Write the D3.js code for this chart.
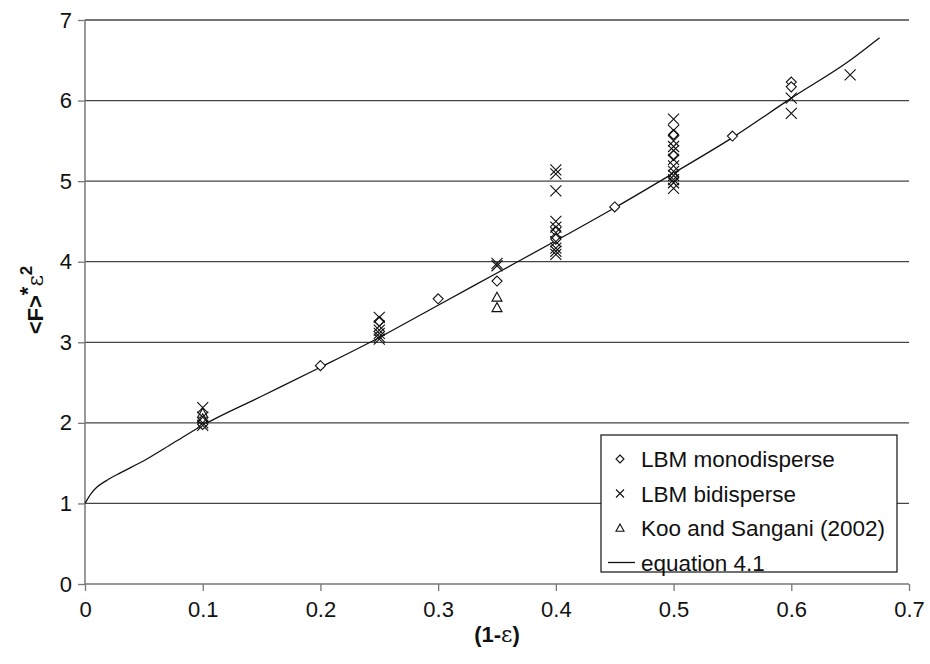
<!DOCTYPE html>
<html>
<head>
<meta charset="utf-8">
<script src="https://cdn.jsdelivr.net/npm/d3@7"></script>
<style>
  body { margin: 0; background: #fff; }
  text { font-family: "Liberation Sans", Arial, sans-serif; }
</style>
</head>
<body>
<svg id="chart" width="930" height="664"></svg>
<script>
// LBM monodisperse points [x, y]
var mono = [
  [0.1, 2.02], [0.1, 1.98], [0.2, 2.71], [0.25, 3.26], [0.3, 3.54], [0.35, 3.76],
  [0.4, 4.38], [0.4, 4.28], [0.45, 4.68], [0.5, 5.58], [0.5, 5.32], [0.5, 5.05],
  [0.55, 5.56], [0.6, 6.23], [0.6, 6.17]
];
// LBM bidisperse points
var bi = [
  [0.1, 2.19], [0.1, 2.07], [0.1, 2.0], [0.1, 1.97],
  [0.25, 3.31], [0.25, 3.2], [0.25, 3.15], [0.25, 3.11], [0.25, 3.07], [0.25, 3.04],
  [0.35, 3.98], [0.35, 3.95],
  [0.4, 5.14], [0.4, 5.09], [0.4, 4.88], [0.4, 4.5], [0.4, 4.43], [0.4, 4.36],
  [0.4, 4.25], [0.4, 4.17], [0.4, 4.13], [0.4, 4.09],
  [0.5, 5.77], [0.5, 5.63], [0.5, 5.5], [0.5, 5.43], [0.5, 5.38], [0.5, 5.27],
  [0.5, 5.19], [0.5, 5.12], [0.5, 5.07], [0.5, 5.02], [0.5, 4.98], [0.5, 4.91],
  [0.6, 6.03], [0.6, 5.84],
  [0.65, 6.32]
];
// Koo and Sangani (2002)
var koo = [
  [0.1, 2.12], [0.1, 2.05], [0.35, 3.56], [0.35, 3.43]
];
// equation 4.1
var eqX = [0, 0.005, 0.01, 0.02, 0.03, 0.05, 0.075, 0.1, 0.15, 0.2, 0.25, 0.3, 0.35, 0.4, 0.45, 0.5, 0.55, 0.6, 0.65, 0.675];
var eqY = [1, 1.12, 1.2, 1.3, 1.38, 1.53, 1.75, 1.97, 2.33, 2.69, 3.06, 3.46, 3.86, 4.26, 4.67, 5.1, 5.54, 6.03, 6.5, 6.78];

var xTicks = [0, 0.1, 0.2, 0.3, 0.4, 0.5, 0.6, 0.7];
var yTicks = [0, 1, 2, 3, 4, 5, 6, 7];

var legendItems = [
  { label: 'LBM monodisperse', kind: 'diamond' },
  { label: 'LBM bidisperse', kind: 'cross' },
  { label: 'Koo and Sangani (2002)', kind: 'triangle' },
  { label: 'equation 4.1', kind: 'line' }
];

var margin = { left: 85, right: 21, top: 20, bottom: 80 };
var width = 930 - margin.left - margin.right;
var height = 664 - margin.top - margin.bottom;

var svg = d3.select('#chart');
var g = svg.append('g').attr('transform', 'translate(' + margin.left + ',' + margin.top + ')');

var x = d3.scaleLinear().domain([0, 0.7]).range([0, width]);
var y = d3.scaleLinear().domain([0, 7]).range([height, 0]);

// gridlines
g.selectAll('.grid').data(yTicks.slice(1)).enter().append('line')
  .attr('x1', 0).attr('x2', width)
  .attr('y1', function (d) { return y(d); }).attr('y2', function (d) { return y(d); })
  .attr('stroke', '#444').attr('stroke-width', 1.3);

// axes
var xAxis = g.append('g').attr('transform', 'translate(0,' + height + ')')
  .call(d3.axisBottom(x).tickValues(xTicks).tickSize(7).tickPadding(10)
    .tickFormat(function (d) { return d === 0 ? '0' : d3.format('.1f')(d); }));
var yAxis = g.append('g')
  .call(d3.axisLeft(y).tickValues(yTicks).tickSize(7).tickPadding(6).tickFormat(d3.format('d')));

[xAxis, yAxis].forEach(function (a) {
  a.select('.domain').attr('stroke', '#777').attr('stroke-width', 1.5);
  a.selectAll('.tick line').attr('stroke', '#777').attr('stroke-width', 1.3);
  a.selectAll('.tick text').attr('fill', '#111').style('font-size', '22px')
    .style('font-family', '"Liberation Sans", Arial, sans-serif');
});
// domain path without outer ticks
xAxis.select('.domain').attr('d', 'M0,0H' + width);
yAxis.select('.domain').attr('d', 'M0,' + height + 'V0');

// equation curve
var eqData = eqX.map(function (v, i) { return [v, eqY[i]]; });
g.append('path').datum(eqData)
  .attr('fill', 'none').attr('stroke', '#111').attr('stroke-width', 1.3)
  .attr('d', d3.line().curve(d3.curveMonotoneX)
    .x(function (d) { return x(d[0]); }).y(function (d) { return y(d[1]); }));

function drawMarker(sel, kind, s) {
  if (kind === 'diamond') {
    sel.append('path').attr('d', 'M0,' + (-s) + 'L' + s + ',0L0,' + s + 'L' + (-s) + ',0Z')
      .attr('fill', '#fff').attr('stroke', '#111').attr('stroke-width', 1.1);
  } else if (kind === 'cross') {
    sel.append('path').attr('d', 'M' + (-s) + ',' + (-s) + 'L' + s + ',' + s + 'M' + s + ',' + (-s) + 'L' + (-s) + ',' + s)
      .attr('fill', 'none').attr('stroke', '#111').attr('stroke-width', 1.1);
  } else if (kind === 'triangle') {
    sel.append('path').attr('d', 'M0,' + (-s) + 'L' + s + ',' + (s * 0.8) + 'L' + (-s) + ',' + (s * 0.8) + 'Z')
      .attr('fill', '#fff').attr('stroke', '#111').attr('stroke-width', 1.1);
  }
}

function drawSeries(data, kind, s) {
  g.selectAll('.pt-' + kind).data(data).enter().append('g')
    .attr('class', 'pt-' + kind)
    .attr('transform', function (d) { return 'translate(' + x(d[0]) + ',' + y(d[1]) + ')'; })
    .each(function () { drawMarker(d3.select(this), kind, s); });
}

drawSeries(mono, 'diamond', 5);
drawSeries(koo, 'triangle', 5);
drawSeries(bi, 'cross', 5.5);

// legend
var lg = svg.append('g').attr('transform', 'translate(601,435)');
lg.append('rect').attr('width', 296).attr('height', 137)
  .attr('fill', '#fff').attr('stroke', '#111').attr('stroke-width', 1.2);
var items = lg.selectAll('.legend-item').data(legendItems).enter().append('g')
  .attr('class', 'legend-item')
  .attr('transform', function (d, i) { return 'translate(0,' + (24 + i * 34.5) + ')'; });
items.each(function (d) {
  var it = d3.select(this);
  if (d.kind === 'line') {
    it.append('line').attr('x1', 7).attr('x2', 34).attr('y1', 0).attr('y2', 0)
      .attr('stroke', '#111').attr('stroke-width', 1.3);
  } else {
    var m = it.append('g').attr('transform', 'translate(19,0)');
    drawMarker(m, d.kind, 4);
  }
});
items.append('text').attr('x', 40).attr('y', 8)
  .style('font-size', '22.5px').attr('fill', '#111')
  .text(function (d) { return d.label; });

// axis titles
var xt = svg.append('text').attr('x', 497).attr('y', 642).attr('text-anchor', 'middle')
  .style('font-size', '22px').style('font-weight', 'bold').attr('fill', '#111');
xt.append('tspan').text('(1-');
xt.append('tspan').style('font-weight', 'normal').style('font-family', '"DejaVu Serif", serif').text('ε');
xt.append('tspan').text(')');

var yt = svg.append('text').attr('transform', 'translate(43,300) rotate(-90)').attr('text-anchor', 'middle')
  .style('font-size', '22px').style('font-weight', 'bold').attr('fill', '#111');
yt.append('tspan').text('<F>');
yt.append('tspan').attr('dy', -8).text('*');
yt.append('tspan').attr('dy', 8).style('font-weight', 'normal').style('font-family', '"DejaVu Serif", serif').text('ε');
yt.append('tspan').attr('dy', -11).style('font-size', '17px').text('2');
</script>
</body>
</html>
